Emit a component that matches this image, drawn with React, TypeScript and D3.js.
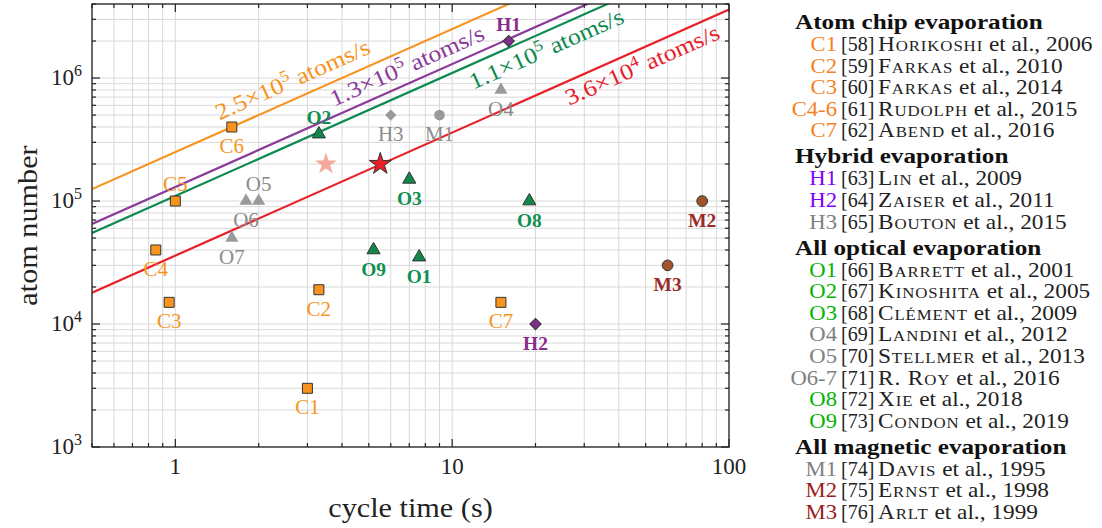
import React from "react";
import * as d3 from "d3";

// ---------- data ----------
const codes = ["C1","C2","C3","C4","C5","C6","C7","H1","H2","H3","O1","O2","O3","O4","O5","O6","O7","O8","O9","M1","M2","M3"];
const cycleTimes = [3, 3.3, 0.95, 0.85, 1, 1.6, 15, 16, 20, 6, 7.6, 3.3, 7, 15, 2, 1.8, 1.6, 19, 5.2, 9, 80, 60];
const atomNumbers = [3e3, 1.9e4, 1.5e4, 4e4, 1e5, 4e5, 1.5e4, 2e6, 1e4, 5e5, 3.5e4, 3.5e5, 1.5e5, 8e5, 1e5, 1e5, 5e4, 1e5, 4e4, 5e5, 1e5, 3e4];
const kinds = ["chip","chip","chip","chip","chip","chip","chip","hybrid","hybrid","hybridGray","optical","optical","optical","opticalGray","opticalGray","opticalGray","opticalGray","optical","optical","magGray","mag","mag"];
const labelsAbove = ["C5","H1","O2","O5"];

const starTimes = [3.5, 5.5];
const starAtoms = [2e5, 2e5];

const rates = [2.5e5, 1.3e5, 1.1e5, 3.6e4];
const rateMantissas = ["2.5", "1.3", "1.1", "3.6"];
const rateExponents = ["5", "5", "5", "4"];
const rateLabelTimes = [1.5, 3.86, 11.0, 24.5];

const xTickValues = [1, 10, 100];
const yTickExponents = [3, 4, 5, 6];

const legendHeaders = ["Atom chip evaporation", "Hybrid evaporation", "All optical evaporation", "All magnetic evaporation"];
const legendGroupOf = [0,0,0,0,0, 1,1,1, 2,2,2,2,2,2,2,2, 3,3,3];
const legendCodes = ["C1","C2","C3","C4-6","C7","H1","H2","H3","O1","O2","O3","O4","O5","O6-7","O8","O9","M1","M2","M3"];
const legendRefs = ["58","59","60","61","62","63","64","65","66","67","68","69","70","71","72","73","74","75","76"];
const legendAuthors = ["Horikoshi","Farkas","Farkas","Rudolph","Abend","Lin","Zaiser","Bouton","Barrett","Kinoshita","Clément","Landini","Stellmer","R. Roy","Xie","Condon","Davis","Ernst","Arlt"];
const legendYears = ["2006","2010","2014","2015","2016","2009","2011","2015","2001","2005","2009","2012","2013","2016","2018","2019","1995","1998","1999"];
const legendKinds = ["chip","chip","chip","chip","chip","hybrid","hybrid","gray","optical","optical","optical","gray","gray","gray","optical","optical","gray","mag","mag"];

// ---------- styles ----------
const markerFill: Record<string, string> = {
  chip: "#f7941d", hybrid: "#7d2e8e", hybridGray: "#999999", optical: "#11884a",
  opticalGray: "#9a9a9a", magGray: "#9a9a9a", mag: "#a0552a",
};
const labelColor: Record<string, string> = {
  chip: "#f7941d", hybrid: "#8a2c8c", hybridGray: "#8c8c8c", optical: "#0f8f50",
  opticalGray: "#8c8c8c", magGray: "#8c8c8c", mag: "#9a2a2a",
};
const labelBold: Record<string, boolean> = {
  chip: false, hybrid: true, hybridGray: false, optical: true, opticalGray: false, magGray: false, mag: true,
};
const legendCodeColor: Record<string, string> = {
  chip: "#f5821f", hybrid: "#8000ff", gray: "#808080", optical: "#00b400", mag: "#9b1c1c",
};
const lineColors = ["#f7931e", "#8b3a9a", "#0d8a4f", "#e8202a"];
const lineLabelOffsets = [-11, -9, 24, 23];

const FONT = "'Liberation Serif', 'DejaVu Serif', serif";

const W = 1102, H = 528;
const PL = 92, PR = 729, PT = 4, PB = 447;

function T(props: any) {
  const { x = 0, y = 0, sx = 1, rotate = 0, children, ...rest } = props;
  return (
    <g transform={`translate(${x},${y}) rotate(${rotate})`}>
      <text transform={`scale(${sx},1)`} {...rest}>{children}</text>
    </g>
  );
}

export default function App() {
  const x = d3.scaleLog().domain([0.5, 100]).range([PL, PR]);
  const y = d3.scaleLog().domain([1e3, 4e6]).range([PB, PT]);

  const xMinor: number[] = [];
  [0.1, 1, 10].forEach((d) => {
    for (let k = 1; k <= 9; k++) {
      const v = +(d * k).toFixed(4);
      if (v >= 0.5 && v <= 100 && !xTickValues.includes(v)) xMinor.push(v);
    }
  });
  const yMinor: number[] = [];
  [1e3, 1e4, 1e5, 1e6].forEach((d) => {
    for (let k = 2; k <= 9; k++) {
      const v = d * k;
      if (v <= 4e6) yMinor.push(v);
    }
  });
  const yMajor = yTickExponents.map((e) => Math.pow(10, e));

  const symbolFor = (kind: string) => {
    if (kind === "chip") return d3.symbol(d3.symbolSquare, 100)();
    if (kind.startsWith("hybrid")) return d3.symbol(d3.symbolSquare, 64)();
    if (kind.startsWith("optical")) return d3.symbol(d3.symbolTriangle, 75)();
    return d3.symbol(d3.symbolCircle, 90)();
  };

  // legend layout
  const legendRows: { y: number; i: number }[] = [];
  const headerYs: number[] = [];
  let cy = 22;
  let prevGroup = -1;
  legendCodes.forEach((_, i) => {
    const g = legendGroupOf[i];
    if (g !== prevGroup) {
      if (prevGroup >= 0) cy += 26;
      headerYs.push(cy);
      cy += 22;
      prevGroup = g;
    } else {
      cy += 21.6;
    }
    legendRows.push({ y: cy, i });
  });
  const legendX = 795;

  return (
    <svg width={W} height={H} style={{ position: "absolute", left: 0, top: 0, background: "#fff" }} fontFamily={FONT}>
      <rect x={0} y={0} width={W} height={H} fill="#fff" />
      {/* grid */}
      <g stroke="#d9d9d9" strokeWidth={1}>
        {xMinor.concat(xTickValues).map((v, i) => (
          <line key={"gx" + i} x1={x(v)} x2={x(v)} y1={PT} y2={PB} />
        ))}
        {yMinor.concat(yMajor).map((v, i) => (
          <line key={"gy" + i} x1={PL} x2={PR} y1={y(v)} y2={y(v)} />
        ))}
      </g>
      <defs>
        <clipPath id="plotclip">
          <rect x={PL} y={PT} width={PR - PL} height={PB - PT} />
        </clipPath>
      </defs>
      {/* rate lines */}
      <g clipPath="url(#plotclip)">
        {rates.map((r, i) => {
          const line = d3.line<number>().x((t) => x(t)).y((t) => y(r * t));
          return <path key={"l" + i} d={line([0.5, 100]) || ""} stroke={lineColors[i]} strokeWidth={2.2} fill="none" />;
        })}
      </g>
      {/* rate labels */}
      {rates.map((r, i) => {
        const t0 = rateLabelTimes[i];
        const px = x(t0), py = y(r * t0);
        const ang = (Math.atan2(y(r * 10) - y(r), x(10) - x(1)) * 180) / Math.PI;
        return (
          <g key={"rl" + i} transform={`translate(${px},${py}) rotate(${ang})`}>
            <text transform="scale(1.12,1)" y={lineLabelOffsets[i]} fill={lineColors[i]} fontSize={23}>
              <tspan>{rateMantissas[i]}×10</tspan>
              <tspan dy={-9} fontSize={16}>{rateExponents[i]}</tspan>
              <tspan dy={9}> atoms/s</tspan>
            </text>
          </g>
        );
      })}
      {/* stars */}
      {starTimes.map((t, i) => (
        <path key={"s" + i} transform={`translate(${x(t)},${y(starAtoms[i])})`} d={d3.symbol(d3.symbolStar, 150)() || ""}
          fill={i === 0 ? "#f4a99a" : "#e8202a"} stroke={i === 0 ? "none" : "#333"} strokeWidth={1} />
      ))}
      {/* markers */}
      {codes.map((c, i) => {
        const k = kinds[i];
        const gray = k.endsWith("Gray");
        const rot = k.startsWith("hybrid") ? " rotate(45)" : "";
        return (
          <path key={"m" + i} transform={`translate(${x(cycleTimes[i])},${y(atomNumbers[i])})${rot}`} d={symbolFor(k) || ""}
            fill={markerFill[k]} stroke={gray ? "none" : "#333"} strokeWidth={1} />
        );
      })}
      {/* point labels */}
      {codes.map((c, i) => {
        const k = kinds[i];
        const above = labelsAbove.includes(c);
        return (
          <T key={"t" + i} x={x(cycleTimes[i])} y={y(atomNumbers[i]) + (above ? -10 : 26)} sx={1.05} textAnchor="middle"
            fill={labelColor[k]} fontSize={labelBold[k] ? 18.5 : 20} fontWeight={labelBold[k] ? "bold" : "normal"}>
            {c}
          </T>
        );
      })}
      {/* frame */}
      <rect x={PL} y={PT} width={PR - PL} height={PB - PT} fill="none" stroke="#222" strokeWidth={1.3} />
      {/* ticks */}
      <g stroke="#222" strokeWidth={1.2}>
        {xTickValues.concat(xMinor).map((v, i) => {
          const len = xTickValues.includes(v) ? 8 : 4;
          return (
            <g key={"xt" + i}>
              <line x1={x(v)} x2={x(v)} y1={PB} y2={PB - len} />
              <line x1={x(v)} x2={x(v)} y1={PT} y2={PT + len} />
            </g>
          );
        })}
        {yMajor.concat(yMinor).map((v, i) => {
          const len = yMajor.includes(v) ? 8 : 4;
          return (
            <g key={"yt" + i}>
              <line x1={PL} x2={PL + len} y1={y(v)} y2={y(v)} />
              <line x1={PR} x2={PR - len} y1={y(v)} y2={y(v)} />
            </g>
          );
        })}
      </g>
      {/* tick labels */}
      {xTickValues.map((v, i) => (
        <text key={"xl" + i} x={x(v)} y={PB + 27} textAnchor="middle" fontSize={23} fill="#222">{v}</text>
      ))}
      {yTickExponents.map((e, i) => (
        <text key={"yl" + i} x={82} y={y(Math.pow(10, e)) + 7} textAnchor="end" fontSize={23} fill="#222">
          <tspan>10</tspan>
          <tspan dy={-9} fontSize={16}>{e}</tspan>
        </text>
      ))}
      {/* axis titles */}
      <T x={(PL + PR) / 2} y={517} sx={1.08} textAnchor="middle" fontSize={28} fill="#222">cycle time (s)</T>
      <T x={37} y={(PT + PB) / 2} rotate={-90} sx={1.08} textAnchor="middle" fontSize={28} fill="#222">atom number</T>
      {/* legend */}
      {headerYs.map((hy, g) => (
        <T key={"lh" + g} x={legendX} y={hy + 7} sx={1.2} fontSize={21} fontWeight="bold" fill="#111">{legendHeaders[g]}</T>
      ))}
      {legendRows.map(({ y: ry, i }) => (
        <g key={"lr" + i}>
          <T x={837} y={ry + 7} sx={1.08} textAnchor="end" fontSize={21} fill={legendCodeColor[legendKinds[i]]}>{legendCodes[i]}</T>
          <text x={841} y={ry + 7} fontSize={20} fill="#222">[{legendRefs[i]}]</text>
          <T x={878} y={ry + 7} sx={1.11} fontSize={21} fill="#222">
            <tspan style={{ fontVariant: "small-caps" }} letterSpacing={0.8}>{legendAuthors[i]}</tspan>
            <tspan> et al., {legendYears[i]}</tspan>
          </T>
        </g>
      ))}
    </svg>
  );
}
